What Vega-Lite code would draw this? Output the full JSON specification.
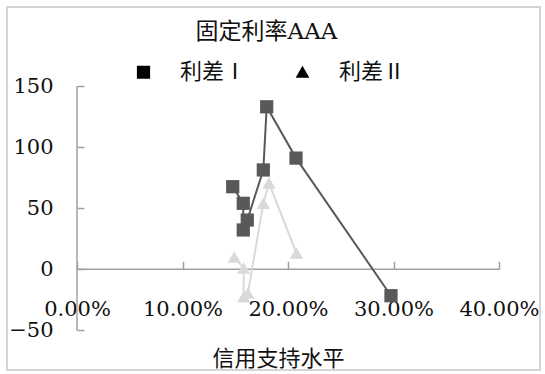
{
  "$schema": "https://vega.github.io/schema/vega-lite/v6.json",
  "width": 533,
  "height": 363,
  "autosize": "none",
  "padding": {"left": 7, "top": 7, "right": 5, "bottom": 4},
  "background": "white",
  "config": {
    "view": {"stroke": "#c8c8c8", "strokeWidth": 1.5},
    "legend": {"orient": "none", "legendX": 108, "legendY": 36.5, "direction": "horizontal",
      "padding": 0, "labelFont": "Noto Sans CJK SC", "labelFontSize": 22, "labelColor": "#111111",
      "symbolSize": 3025, "symbolStrokeWidth": 2, "labelOffset": 8, "columnPadding": 24}
  },
  "title": {"text": "固定利率AAA", "font": "DejaVu Serif, Noto Sans CJK SC", "fontSize": 23, "fontWeight": "normal", "color": "#111111", "anchor": "middle", "frame": "group", "baseline": "alphabetic", "offset": -55, "dx": -7},
  "data": {"values": [
    {"s": "利差Ⅰ", "i": 1, "x": 0.1476, "y": 67.6},
    {"s": "利差Ⅰ", "i": 2, "x": 0.1576, "y": 54},
    {"s": "利差Ⅰ", "i": 3, "x": 0.1576, "y": 32.2},
    {"s": "利差Ⅰ", "i": 4, "x": 0.1614, "y": 40.3},
    {"s": "利差Ⅰ", "i": 5, "x": 0.1766, "y": 81.3},
    {"s": "利差Ⅰ", "i": 6, "x": 0.1798, "y": 133},
    {"s": "利差Ⅰ", "i": 7, "x": 0.2076, "y": 91},
    {"s": "利差Ⅰ", "i": 8, "x": 0.2976, "y": -21.6},
    {"s": "利差Ⅱ", "i": 1, "x": 0.149, "y": 10},
    {"s": "利差Ⅱ", "i": 2, "x": 0.158, "y": 1},
    {"s": "利差Ⅱ", "i": 3, "x": 0.158, "y": -22.4},
    {"s": "利差Ⅱ", "i": 4, "x": 0.162, "y": -19.4},
    {"s": "利差Ⅱ", "i": 5, "x": 0.1766, "y": 54},
    {"s": "利差Ⅱ", "i": 6, "x": 0.182, "y": 70.6},
    {"s": "利差Ⅱ", "i": 7, "x": 0.208, "y": 13.3}
  ]},
  "encoding": {
    "x": {"field": "x", "type": "quantitative",
      "scale": {"domain": [-0.06635, 0.43886], "nice": false, "zero": false},
      "axis": {"orient": "bottom", "offset": -100.7, "values": [0, 0.1, 0.2, 0.3, 0.4], "format": ".2%",
        "domain": false, "grid": false, "ticks": true, "tickSize": -8, "tickColor": "#a0a0a0", "tickWidth": 1.5,
        "labelFont": "DejaVu Serif", "labelFontSize": 21, "labelColor": "#111111", "labelPadding": 54,
        "labelBaseline": "alphabetic", "labelFlush": false, "labelOverlap": false,
        "title": "信用支持水平", "titleFont": "Noto Sans CJK SC", "titleFontSize": 22, "titleFontWeight": "normal",
        "titleColor": "#111111", "titleX": 271, "titleY": 96, "titleBaseline": "alphabetic", "titleAlign": "center"}},
    "y": {"field": "y", "type": "quantitative",
      "scale": {"domain": [-82.4, 214.65], "nice": false, "zero": false},
      "axis": {"orient": "left", "offset": -70, "values": [-50, 0, 50, 100, 150],
        "domain": false, "grid": false, "ticks": true, "tickSize": -7, "tickColor": "#a0a0a0", "tickWidth": 1.5,
        "labelFont": "DejaVu Serif", "labelFontSize": 21, "labelColor": "#111111", "labelPadding": 31,
        "labelBaseline": "middle", "labelFlush": false, "labelOverlap": false, "title": null}}
  },
  "resolve": {"scale": {"shape": "independent"}},
  "layer": [
    {"data": {"values": [{"x": 0, "y": 0, "xe": 0.4}]},
     "mark": {"type": "rule", "color": "#a0a0a0", "strokeWidth": 1.5},
     "encoding": {"x2": {"field": "xe"}}},
    {"data": {"values": [{"x": 0, "y": -50, "ye": 150}]},
     "mark": {"type": "rule", "color": "#a0a0a0", "strokeWidth": 1.5},
     "encoding": {"y2": {"field": "ye"}}},
    {"mark": {"type": "line", "strokeWidth": 2},
     "encoding": {"order": {"field": "i", "type": "quantitative"},
       "color": {"field": "s", "type": "nominal", "scale": {"domain": ["利差Ⅰ", "利差Ⅱ"], "range": ["#595959", "#d9d9d9"]}, "legend": null}}},
    {"mark": {"type": "point", "filled": true, "opacity": 1, "size": 175},
     "encoding": {
       "color": {"field": "s", "type": "nominal", "scale": {"domain": ["利差Ⅰ", "利差Ⅱ"], "range": ["#595959", "#d9d9d9"]}, "legend": null},
       "shape": {"field": "s", "type": "nominal", "scale": {"domain": ["利差Ⅰ", "利差Ⅱ"], "range": ["square", "triangle-up"]}, "legend": null}}},
    {"transform": [{"filter": "false"}],
     "mark": {"type": "point", "filled": true, "opacity": 1, "strokeWidth": 2},
     "encoding": {
       "color": {"field": "s", "type": "nominal", "scale": {"domain": ["利差Ⅰ", "利差Ⅱ"], "range": ["#595959", "#d9d9d9"]}, "legend": {"title": null}},
       "stroke": {"field": "s", "type": "nominal", "scale": {"domain": ["利差Ⅰ", "利差Ⅱ"], "range": ["#595959", "#d9d9d9"]}, "legend": {"title": null}},
       "shape": {"field": "s", "type": "nominal", "scale": {"domain": ["利差Ⅰ", "利差Ⅱ"], "range": ["M-1,0H1M-0.24,-0.24H0.24V0.24H-0.24Z", "M-1,0H1M0,-0.24L0.25,0.2H-0.25Z"]}, "legend": {"title": null}}}}
  ]
}
